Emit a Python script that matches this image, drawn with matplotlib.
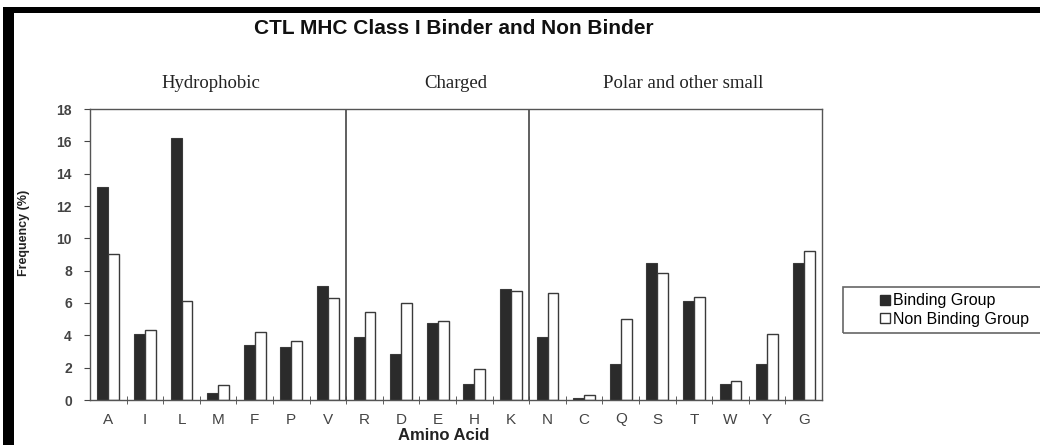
import numpy as np
import matplotlib.pyplot as plt
from matplotlib.patches import Rectangle, Patch

plt.rcParams['font.family'] = ['Liberation Sans', 'DejaVu Sans']

# ===== DATA =====
amino = ['A', 'I', 'L', 'M', 'F', 'P', 'V', 'R', 'D', 'E', 'H', 'K',
         'N', 'C', 'Q', 'S', 'T', 'W', 'Y', 'G']
binding = [13.2, 4.08, 16.2, 0.41, 3.38, 3.26, 7.07, 3.92, 2.84, 4.74, 0.97, 6.86,
           3.92, 0.10, 2.20, 8.49, 6.10, 0.97, 2.20, 8.49]
non_binding = [9.03, 4.33, 6.10, 0.95, 4.20, 3.67, 6.29, 5.42, 6.00, 4.87, 1.90, 6.76,
               6.60, 0.29, 4.99, 7.83, 6.35, 1.17, 4.08, 9.21]
groups = ['Hydrophobic', 'Charged', 'Polar and other small']
group_sizes = [7, 5, 8]

W, H = 1040, 445
fig = plt.figure(figsize=(W / 100, H / 100), dpi=100)
ax = fig.add_axes([90 / W, 1 - 400 / H, (822 - 90) / W, (400 - 109) / H])

x = np.arange(len(amino))
bw = 0.3
ax.bar(x - bw / 2, binding, bw, color='#2b2b2b', edgecolor='#3a3a3a', linewidth=0.8,
       label='Binding Group')
ax.bar(x + bw / 2, non_binding, bw, color='white', edgecolor='#3a3a3a', linewidth=1.0,
       label='Non Binding Group')

ax.set_xlim(-0.5, len(amino) - 0.5)
ax.set_ylim(0, 18)
ax.set_yticks(range(0, 19, 2))
ax.set_xticks(x)
ax.set_xticklabels(amino)
ax.set_xticks(np.arange(0.5, len(amino) - 0.5), minor=True)
ax.tick_params(axis='x', which='major', length=0, pad=9, labelsize=11, labelcolor='#444444')
ax.tick_params(axis='x', which='minor', length=6, direction='inout', color='#444444')
ax.tick_params(axis='y', length=4, pad=9, labelsize=10, labelcolor='#444444', color='#444444')
for lbl in ax.get_yticklabels():
    lbl.set_fontweight('bold')
for s in ax.spines.values():
    s.set_color('#555555')
    s.set_linewidth(1.0)

# group dividers + labels
edges = np.cumsum([0] + group_sizes) - 0.5
for e in edges[1:-1]:
    ax.axvline(e, color='#444444', linewidth=1.2)
label_pos = [2.8, 9.5, 15.7]
for g, p in zip(groups, label_pos):
    ax.text(p, 19.6, g, ha='center', va='center', fontsize=13.5,
            family='Liberation Serif', color='#222222')

fig.text(454 / W, 1 - 28 / H, 'CTL MHC Class I Binder and Non Binder', ha='center',
         va='center', fontsize=15, fontweight='bold', color='#111111')
fig.text(24 / W, 1 - 233 / H, 'Frequency (%)', rotation=90, ha='center', va='center',
         fontsize=9, fontweight='bold', color='#222222')
fig.text(444 / W, 1 - 428 / H, 'Amino Acid', ha='center', va='top',
         fontsize=12, fontweight='bold', color='#222222')

# legend
handles = [Patch(facecolor='#2b2b2b', edgecolor='#2b2b2b'),
           Patch(facecolor='white', edgecolor='#333333')]
fig.legend(handles, ['Binding Group', 'Non Binding Group'], loc='center left',
           bbox_to_anchor=(880 / W, 1 - 310 / H), frameon=False, fontsize=11.5,
           handlelength=0.6, handleheight=0.6, handletextpad=0.2, labelspacing=0.2,
           borderpad=0, borderaxespad=0)
fig.patches.append(Rectangle((843 / W, 1 - 333 / H), 0.3, 46 / H, transform=fig.transFigure,
                             facecolor='none', edgecolor='#666666', linewidth=1.2))

# scan borders
fig.patches.append(Rectangle((8 / W, 1 - 13 / H), 1, 6 / H, transform=fig.transFigure,
                             facecolor='black', edgecolor='none'))
fig.patches.append(Rectangle((3 / W, 0), 11 / W, 1 - 7 / H, transform=fig.transFigure,
                             facecolor='black', edgecolor='none'))

plt.savefig('out.png', dpi=100)
